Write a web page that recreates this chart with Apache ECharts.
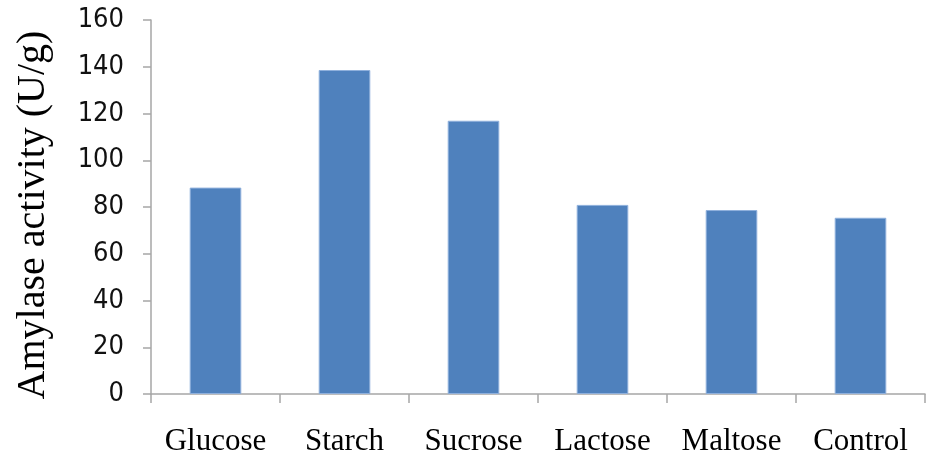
<!DOCTYPE html>
<html>
<head>
<meta charset="utf-8">
<script src="https://cdn.jsdelivr.net/npm/echarts@6/dist/echarts.min.js"></script>
<style>
html,body{margin:0;padding:0;background:#fff;}
#chart{width:941px;height:459px;}
</style>
</head>
<body>
<div id="chart"></div>
<script>
const categories = ["Glucose", "Starch", "Sucrose", "Lactose", "Maltose", "Control"];
const activity = [88.3, 138.6, 116.9, 80.9, 78.7, 75.4];
const yTicks = { min: 0, max: 160, interval: 20 };
const yTitle = "Amylase activity (U/g)";

const chart = echarts.init(document.getElementById('chart'), null, { renderer: 'canvas' });
chart.setOption({
  backgroundColor: '#ffffff',
  animation: false,
  grid: { left: 151, right: 16, top: 20, bottom: 65, containLabel: false },
  xAxis: {
    type: 'category',
    data: categories,
    axisLine: { show: true, lineStyle: { color: '#a6a6a6', width: 1.5 } },
    axisTick: { show: true, length: 9, lineStyle: { color: '#a6a6a6', width: 1.5 } },
    axisLabel: {
      interval: 0, hideOverlap: false,
      color: '#000', fontFamily: '"Liberation Serif", "Times New Roman", serif',
      fontSize: 31, margin: 32
    }
  },
  yAxis: {
    type: 'value',
    min: yTicks.min, max: yTicks.max, interval: yTicks.interval,
    name: yTitle,
    nameLocation: 'middle',
    nameRotate: 90,
    nameGap: 98,
    nameTextStyle: {
      color: '#000', fontFamily: '"Liberation Serif", "Times New Roman", serif',
      fontSize: 40, padding: [0, 0, 0, -16]
    },
    axisLine: { show: true, lineStyle: { color: '#a6a6a6', width: 1.5 } },
    axisTick: { show: true, length: 8, lineStyle: { color: '#a6a6a6', width: 1.5 } },
    splitLine: { show: false },
    axisLabel: {
      color: '#111', fontFamily: '"Liberation Sans Narrow", "DejaVu Sans Condensed", sans-serif',
      fontSize: 27, margin: 27
    }
  },
  series: [{
    type: 'bar',
    data: activity,
    barWidth: '40%',
    itemStyle: { color: '#4f81bd', borderColor: '#8fb0dc', borderWidth: 1 }
  }]
});
</script>
</body>
</html>
